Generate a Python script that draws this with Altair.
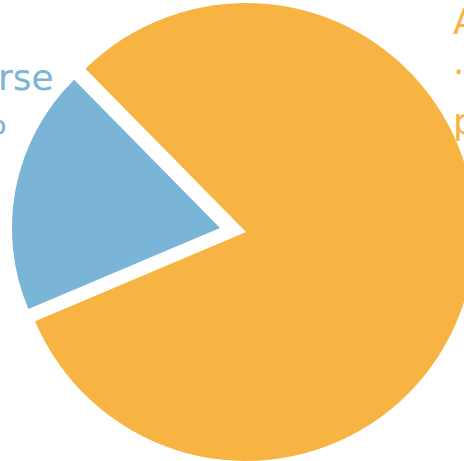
import altair as alt
import pandas as pd

# ---- data ----
categories = ["Advance", "Reverse"]
values = [81, 19]
label_lines = [["Advance", "\u00b781 %", "pace"], ["Reverse", "19\u2002%"]]
colors = ["#F8B442", "#7AB4D6"]

df = pd.DataFrame({
    "category": categories,
    "value": values,
    "order": list(range(len(categories))),
    "label": ["\n".join(l) for l in label_lines],
})

# ---- layout constants ----
W, H = 464, 461
start = 5.506  # radians, clockwise from 12 o'clock
theta_scale = alt.Scale(range=[start, start + 2 * 3.141592653589793])
color_scale = alt.Scale(domain=categories, range=colors)

base = alt.Chart(df)

def arc_layer(cat, cx, cy, r):
    return base.mark_arc(outerRadius=r).encode(
        theta=alt.Theta("value:Q", stack=True, scale=theta_scale),
        order=alt.Order("order:Q"),
        color=alt.Color("category:N", scale=color_scale, legend=None),
        opacity=alt.condition(alt.datum.category == cat, alt.value(1), alt.value(0)),
        x=alt.value(cx),
        y=alt.value(cy),
    )

big = arc_layer("Advance", 246, 232, 229)
small = arc_layer("Reverse", 220, 228, 208)

def text_layer(cat, tx, ty, lh):
    return base.transform_filter(alt.datum.category == cat).mark_text(
        align="left", baseline="alphabetic", font="DejaVu Sans", fontSize=36,
        lineBreak="\n", lineHeight=lh,
    ).encode(
        text="label:N",
        color=alt.Color("category:N", scale=color_scale, legend=None),
        x=alt.value(tx),
        y=alt.value(ty),
    )

t_blue = text_layer("Reverse", -91, 90, 44)
t_orange = text_layer("Advance", 453, 34, 50)

chart = alt.layer(big, small, t_blue, t_orange).properties(
    width=W, height=H,
    autosize=alt.AutoSizeParams(type="none"),
    padding=0,
).configure_view(stroke=None)

chart.save("out.html", embed_options={"renderer": "svg", "actions": False})
